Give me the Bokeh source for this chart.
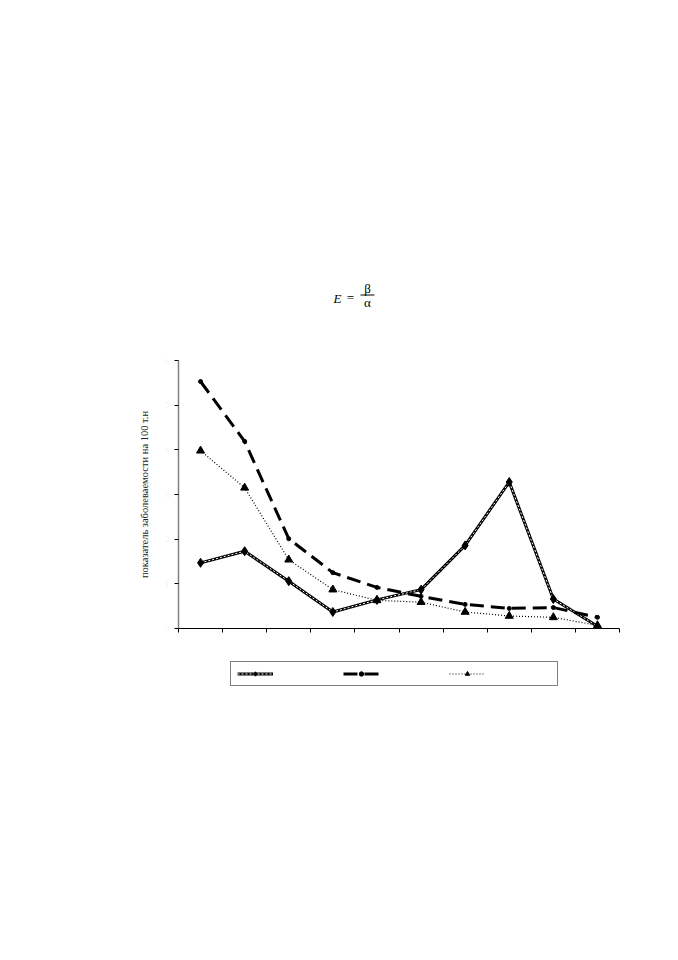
import numpy as np
from bokeh.plotting import figure
from bokeh.layouts import column
from bokeh.models import Range1d, FixedTicker, Legend, LegendItem
from bokeh.core.properties import value
from bokeh.embed import file_html
from bokeh.resources import INLINE

# ---- data ----
categories = ["1", "2", "3", "4", "5", "6", "7", "8", "9", "10"]
series_solid = [1.47, 1.73, 1.06, 0.37, 0.64, 0.87, 1.86, 3.28, 0.66, 0.05]
series_dashed = [5.53, 4.19, 2.01, 1.25, 0.92, 0.72, 0.54, 0.45, 0.47, 0.25]
series_dotted = [3.98, 3.15, 1.54, 0.87, 0.63, 0.59, 0.37, 0.28, 0.25, 0.07]
y_ticks = [0, 1, 2, 3, 4, 5, 6]
y_label = "показатель заболеваемости на 100 т.н"
title_parts = ["E", "=", "β", "α"]

FW = 441          # frame width shared by all stacked figures
BL = 178          # left border
BR = 43           # right border
tfont = value("Liberation Serif")

# ---- title figure (formula E = beta / alpha) ----
TH = 340
t = figure(frame_width=FW, frame_height=TH, output_backend="svg", toolbar_location=None,
           x_range=Range1d(0, FW), y_range=Range1d(0, TH),
           min_border_left=BL, min_border_right=BR, min_border_top=0, min_border_bottom=0)
t.axis.visible = False
t.grid.visible = False
t.outline_line_color = None
t.text(x=[159], y=[42], text=[title_parts[0]], text_font=tfont,
       text_font_style="italic", text_font_size="13px", text_baseline="middle",
       text_align="center", text_color="black")
t.text(x=[172], y=[43], text=[title_parts[1]], text_font=tfont,
       text_font_size="13px", text_baseline="middle", text_align="center",
       text_color="black")
t.text(x=[189], y=[52], text=[title_parts[2]], text_font=tfont,
       text_font_size="13px", text_baseline="middle", text_align="center",
       text_color="black")
t.text(x=[189], y=[38], text=[title_parts[3]], text_font=tfont,
       text_font_size="13px", text_baseline="middle", text_align="center",
       text_color="black")
t.segment(x0=[182], y0=[45.5], x1=[196], y1=[45.5], line_color="black", line_width=1)

# ---- main chart ----
xs = [i + 0.5 for i in range(len(categories))]


def draw_series(fig):
    a = fig.line(xs, series_solid, line_color="black", line_width=3)
    b = fig.line(xs, series_solid, line_color="white", line_width=1, line_dash="2 2")
    c = fig.scatter(xs, series_solid, marker="diamond", size=9, color="black")
    d = fig.line(xs, series_dashed, line_color="black", line_width=3, line_dash="14 7")
    f = fig.scatter(xs, series_dashed, marker="circle", size=4, color="black")
    g = fig.line(xs, series_dotted, line_color="black", line_width=1.2, line_dash="1 2")
    h = fig.scatter(xs, series_dotted, marker="triangle", size=8, color="black")
    return [[a, b, c], [d, f], [g, h]]


p = figure(frame_width=FW, frame_height=268, output_backend="svg", toolbar_location=None,
           x_range=Range1d(0, len(categories)), y_range=Range1d(0, 6),
           min_border_left=BL, min_border_right=BR, min_border_top=20,
           min_border_bottom=20)
p.outline_line_color = None
p.grid.visible = False

p.xaxis.ticker = FixedTicker(ticks=list(range(len(categories) + 1)))
p.xaxis.major_label_text_color = None
p.xaxis.major_label_text_font_size = "6px"
p.xaxis.axis_line_color = "black"
p.xaxis.major_tick_line_color = "black"
p.xaxis.major_tick_out = 4
p.xaxis.major_tick_in = 0
p.xaxis.minor_tick_line_color = None

p.yaxis.ticker = FixedTicker(ticks=y_ticks)
p.yaxis.major_label_text_color = "#f4f4f4"
p.yaxis.major_label_text_font = "Liberation Serif"
p.yaxis.major_label_text_font_size = "9px"
p.yaxis.axis_line_color = "#808080"
p.yaxis.axis_line_width = 1.5
p.yaxis.major_tick_line_color = "black"
p.yaxis.major_tick_out = 4
p.yaxis.major_tick_in = 0
p.yaxis.minor_tick_line_color = None
p.yaxis.axis_label = y_label
p.yaxis.axis_label_text_font = "Liberation Serif"
p.yaxis.axis_label_text_font_style = "normal"
p.yaxis.axis_label_text_font_size = "10.5px"
p.yaxis.axis_label_text_color = "#222222"
p.yaxis.axis_label_standoff = 12

draw_series(p)

# ---- legend strip: same series drawn out of view, only the legend shows ----
lg = figure(frame_width=FW, frame_height=60, output_backend="svg", toolbar_location=None,
            x_range=Range1d(0, len(categories)), y_range=Range1d(-100, -99),
            min_border_left=BL, min_border_right=BR, min_border_top=0, min_border_bottom=0)
lg.axis.visible = False
lg.grid.visible = False
lg.outline_line_color = None
groups = draw_series(lg)

legend = Legend(items=[LegendItem(label=" ", renderers=g) for g in groups],
                orientation="horizontal", location=(52, 22), glyph_width=36,
                glyph_height=11, label_width=62, label_standoff=4, spacing=4,
                padding=6, margin=0, border_line_color="black", border_line_width=1,
                label_text_font_size="9px", background_fill_alpha=1)
lg.add_layout(legend, "center")

open("out.html", "w").write(file_html(column(t, p, lg, spacing=0), INLINE))
